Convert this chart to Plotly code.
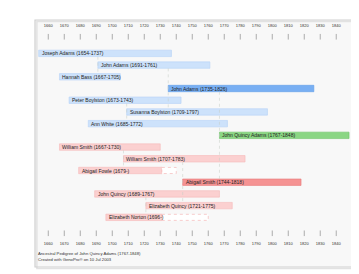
import plotly.graph_objects as go

# ---- data ----
names = ["Joseph Adams", "John Adams", "Hannah Bass", "John Adams", "Peter Boylston",
         "Susanna Boylston", "Ann White", "John Quincy Adams", "William Smith",
         "William Smith", "Abigail Fowle", "Abigail Smith", "John Quincy",
         "Elizabeth Quincy", "Elizabeth Norton"]
born = [1654, 1691, 1667, 1735, 1673, 1709, 1685, 1767, 1667, 1707, 1679, 1744, 1689, 1721, 1696]
died = [1737, 1761, 1705, 1826, 1743, 1797, 1772, 1848, 1730, 1783, None, 1818, 1767, 1775, None]
# for unknown death: last known year (solid) and estimated end (dashed)
known_until = [None] * 10 + [1731, None, None, None, 1731]
est_end = [None] * 10 + [1740, None, None, None, 1760]
kind = ["pl", "pl", "pl", "pd", "pl", "pl", "pl", "s", "ml", "ml", "ml", "md", "ml", "ml", "ml"]
# parent-child links: (child row, father row, mother row)
links = [(1, 0, 2), (3, 1, 5), (5, 4, 6), (7, 3, 11), (9, 8, 10), (11, 9, 13), (13, 12, 14)]
tick_years = list(range(1660, 1841, 10))
caption = ["Ancestral Pedigree of John Quincy Adams (1767-1848)",
           "Created with GenoPro® on 10 Jul 2003"]

colors = {"pl": "#cde2fb", "pd": "#78aff3", "s": "#8ad683", "ml": "#fbd0d0", "md": "#f59393"}
lines = {"pl": "#b5d2f6", "pd": "#5f9ce8", "s": "#6cc464", "ml": "#f5b8b8", "md": "#ea7a7a"}

rows = list(range(len(names)))
fig = go.Figure()

# bars
for i in rows:
    end = died[i] if died[i] is not None else known_until[i]
    fig.add_trace(go.Bar(
        y=[i], base=[born[i]], x=[end - born[i]], orientation="h", width=0.55,
        marker=dict(color=colors[kind[i]], line=dict(color=lines[kind[i]], width=0.6)),
        showlegend=False, hoverinfo="skip"))
    if est_end[i] is not None:
        fig.add_shape(type="rect", xref="x", yref="y", x0=known_until[i], x1=est_end[i],
                      y0=i - 0.26, y1=i + 0.26, fillcolor="white",
                      line=dict(color=lines[kind[i]], width=0.7, dash="dot"))

# connector lines
for c, f, m in links:
    fig.add_trace(go.Scatter(x=[born[c], born[c]], y=[min(f, m, c) + 0.28, max(f, m, c) - 0.28],
                             mode="lines", line=dict(color="#c4ccc4", width=0.5, dash="dot"),
                             hoverinfo="skip", showlegend=False))

for i in rows:
    label = f"{names[i]} ({born[i]}-{died[i] if died[i] is not None else ''})"
    fig.add_annotation(x=born[i], y=i, text=label, xref="x", yref="y", xanchor="left",
                       yanchor="middle", showarrow=False, xshift=1,
                       font=dict(size=5, color="#222", family="Liberation Sans"))

# tick labels / marks top & bottom
for ylab, ymark in [(-2.33, -1.42), (16.3, 15.36)]:
    fig.add_trace(go.Scatter(x=tick_years, y=[ylab] * len(tick_years), mode="text",
                             text=[str(t) for t in tick_years],
                             textfont=dict(size=4, color="#333", family="Liberation Sans"),
                             hoverinfo="skip", showlegend=False))
    fig.add_trace(go.Scatter(x=tick_years, y=[ymark] * len(tick_years), mode="markers",
                             marker=dict(symbol="line-ns-open", size=4, color="#999",
                                         line=dict(color="#999", width=0.8)),
                             hoverinfo="skip", showlegend=False))

for j, t in enumerate(caption):
    fig.add_annotation(x=0.003, y=17.06 + 0.55 * j, xref="paper", yref="y", text=t,
                       xanchor="left", yanchor="middle", showarrow=False,
                       font=dict(size=4.2, color="#333", family="Liberation Sans"))

# frame with soft shadow on right/bottom
fig.add_shape(type="rect", xref="paper", yref="paper", x0=0.006, x1=1.006, y0=-0.006, y1=0.994,
              line=dict(color="#e2e2e2", width=1.5), layer="below")
fig.add_shape(type="rect", xref="paper", yref="paper", x0=0, x1=1, y0=0, y1=1,
              line=dict(color="#cfcfcf", width=1.2))

fig.update_layout(
    width=359, height=274, margin=dict(l=27, r=13, t=12, b=15),
    paper_bgcolor="white", plot_bgcolor="#f8f8f8", barmode="overlay",
    xaxis=dict(range=[1651.7, 1851.1], visible=False),
    yaxis=dict(range=[18.24, -2.85], visible=False),
)
fig.write_html("out.html")
